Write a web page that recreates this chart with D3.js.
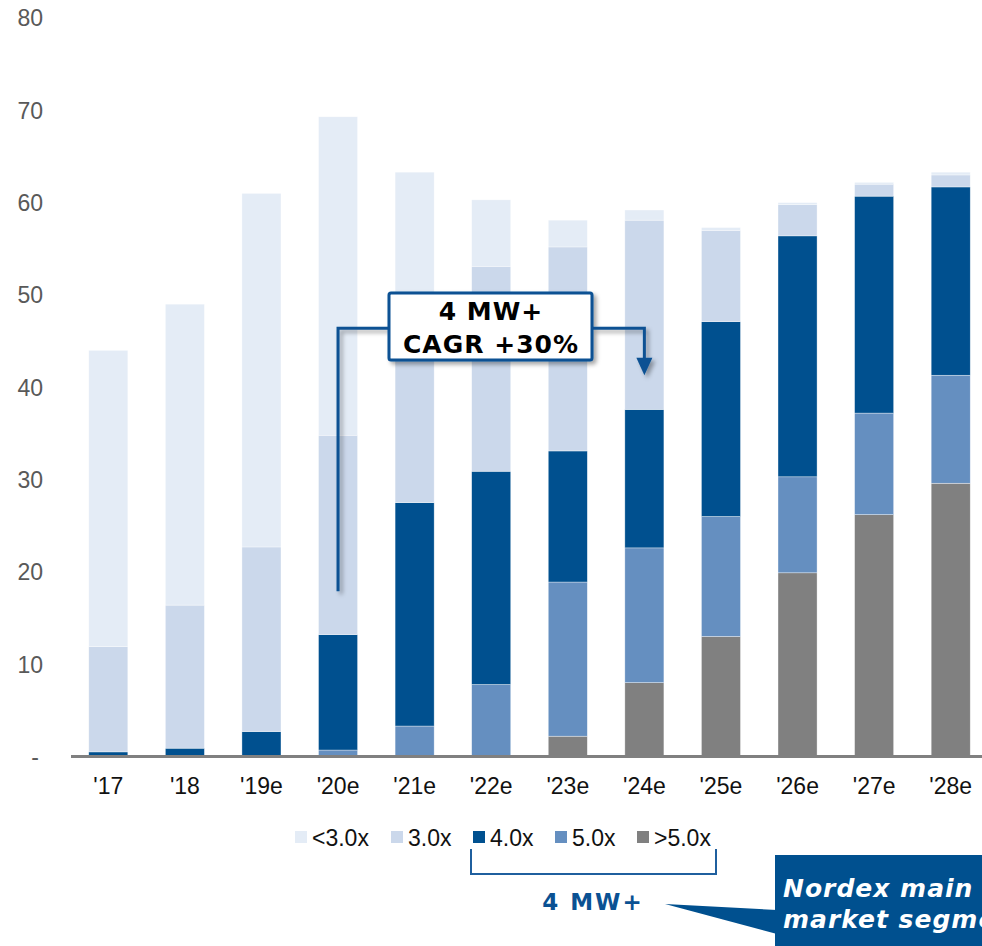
<!DOCTYPE html>
<html>
<head>
<meta charset="utf-8">
<script src="https://cdn.jsdelivr.net/npm/d3@7"></script>
<style>
  html, body { margin: 0; padding: 0; background: #fff; }
  svg { display: block; }
</style>
</head>
<body>
<svg id="chart" width="982" height="946"></svg>
<script>
// Installed base by turbine class (stacked bars)
const categories = ["'17", "'18", "'19e", "'20e", "'21e", "'22e", "'23e", "'24e", "'25e", "'26e", "'27e", "'28e"];
const seriesNames = ["<3.0x", "3.0x", "4.0x", "5.0x", ">5.0x"];
const seriesColors = ["#e4ecf6", "#cbd8eb", "#00508f", "#658fc0", "#808080"];

const valuesLt3 = [32.1, 32.6, 38.3, 34.5, 17.3, 7.2, 2.9, 1.1, 0.3, 0.2, 0.2, 0.3];
const values3 = [11.4, 15.5, 20.0, 21.6, 18.5, 22.2, 22.1, 20.5, 9.9, 3.4, 1.3, 1.3];
const values4 = [0.5, 0.9, 2.7, 12.5, 24.2, 23.1, 14.2, 15.0, 21.1, 26.1, 23.5, 20.4];
const values5 = [0, 0, 0, 0.7, 3.3, 7.8, 16.7, 14.6, 13.0, 10.4, 11.0, 11.7];
const valuesGt5 = [0, 0, 0, 0, 0, 0, 2.2, 8.0, 13.0, 19.9, 26.2, 29.6];

const yTicks = [0, 10, 20, 30, 40, 50, 60, 70, 80];

// Stack order from the bottom up
const stackOrder = [">5.0x", "5.0x", "4.0x", "3.0x", "<3.0x"];
const seriesValues = {
  "<3.0x": valuesLt3, "3.0x": values3, "4.0x": values4, "5.0x": values5, ">5.0x": valuesGt5
};
const rows = categories.map((c, i) => {
  const r = { cat: c };
  seriesNames.forEach(s => { r[s] = seriesValues[s][i]; });
  return r;
});

const svg = d3.select("#chart");
const color = d3.scaleOrdinal().domain(seriesNames).range(seriesColors);

const x = d3.scaleBand().domain(categories).range([70, 989]).paddingInner(0.49).paddingOuter(0.245);
const y = d3.scaleLinear().domain([0, 80]).range([756.5, 18]);

// Drop shadow used by the CAGR callout
const defs = svg.append("defs");
const f = defs.append("filter").attr("id", "shadow").attr("x", "-20%").attr("y", "-20%").attr("width", "150%").attr("height", "150%");
f.append("feDropShadow").attr("dx", 3).attr("dy", 3).attr("stdDeviation", 2)
  .attr("flood-color", "#000").attr("flood-opacity", 0.35);

// Bars
const stack = d3.stack().keys(stackOrder);
const layers = stack(rows);
svg.append("g").selectAll("g")
  .data(layers)
  .join("g")
  .attr("fill", d => color(d.key))
  .selectAll("rect")
  .data(d => d)
  .join("rect")
  .attr("x", d => x(d.data.cat))
  .attr("width", x.bandwidth())
  .attr("y", d => y(d[1]))
  .attr("height", d => Math.max(0, y(d[0]) - y(d[1])))
  .attr("stroke", "#ffffff")
  .attr("stroke-opacity", 0.6)
  .attr("stroke-width", 0.6);

// Baseline
svg.append("line")
  .attr("x1", 71).attr("x2", 982)
  .attr("y1", y(0)).attr("y2", y(0))
  .attr("stroke", "#808080").attr("stroke-width", 3);

// Y axis labels
const yAxis = d3.axisLeft(y).tickValues(yTicks).tickSize(0).tickPadding(0)
  .tickFormat(v => v === 0 ? "-" : d3.format("d")(v));
const gy = svg.append("g").attr("transform", "translate(43,0)").call(yAxis);
gy.select(".domain").remove();
gy.selectAll("text")
  .attr("font-family", "'Liberation Sans', Arial, sans-serif")
  .attr("font-size", 23)
  .attr("fill", "#595959")
  .attr("dy", "0.34em");
gy.selectAll(".tick").filter(d => d === 0).select("text").attr("x", -4);

// X axis labels
const xAxis = d3.axisBottom(x).tickSize(0).tickPadding(0);
const gx = svg.append("g").attr("transform", "translate(0,777)").call(xAxis);
gx.select(".domain").remove();
gx.selectAll("text")
  .attr("font-family", "'Liberation Sans', Arial, sans-serif")
  .attr("font-size", 23)
  .attr("fill", "#111")
  .attr("dy", "0.75em");

// CAGR callout: connector from '20e to '24e through a framed label
const navy = "#0a5193";
const xFrom = x("'20e") + x.bandwidth() / 2;
const xTo = x("'24e") + x.bandwidth() / 2;
const yLine = y(46.4);
const callout = svg.append("g").attr("filter", "url(#shadow)");
callout.append("path")
  .attr("d", `M${xFrom},${y(17.9)} V${yLine} H${xTo} V${y(42.9)}`)
  .attr("fill", "none").attr("stroke", navy).attr("stroke-width", 3);
callout.append("path")
  .attr("d", `M${xTo - 8},${y(43.2)} L${xTo + 8},${y(43.2)} L${xTo},${y(41.3)} Z`)
  .attr("fill", navy);
callout.append("rect")
  .attr("x", 389).attr("y", 293).attr("width", 203).attr("height", 67)
  .attr("rx", 2)
  .attr("fill", "#fff").attr("stroke", navy).attr("stroke-width", 3);
const boxText = svg.append("g")
  .attr("font-family", "'DejaVu Sans', Verdana, sans-serif")
  .attr("font-weight", "bold")
  .attr("fill", "#000")
  .attr("text-anchor", "middle");
boxText.append("text").attr("x", 491).attr("y", 320).attr("font-size", 25).attr("letter-spacing", 1).text("4 MW+");
boxText.append("text").attr("x", 491).attr("y", 353).attr("font-size", 25).attr("letter-spacing", 1).text("CAGR +30%");

// Legend
const legendX = [295, 391, 473, 555, 637];
const legend = svg.append("g");
seriesNames.forEach((s, i) => {
  legend.append("rect")
    .attr("x", legendX[i]).attr("y", 831).attr("width", 12).attr("height", 12)
    .attr("fill", color(s));
  legend.append("text")
    .attr("x", legendX[i] + 17).attr("y", 846)
    .attr("font-family", "'Liberation Sans', Arial, sans-serif")
    .attr("font-size", 23)
    .attr("fill", "#111")
    .text(s);
});

// Bracket grouping the 4 MW+ classes
svg.append("path")
  .attr("d", "M471,849 V874 H716 V849")
  .attr("fill", "none").attr("stroke", "#1f5f9e").attr("stroke-width", 2);
svg.append("text")
  .attr("x", 593).attr("y", 910)
  .attr("text-anchor", "middle")
  .attr("font-family", "'DejaVu Sans', Verdana, sans-serif")
  .attr("font-weight", "bold")
  .attr("font-size", 23)
  .attr("letter-spacing", 2)
  .attr("fill", "#0a5193")
  .text("4 MW+");

// Speech bubble
svg.append("path")
  .attr("d", "M665,904 L777,910 L777,934 Z")
  .attr("fill", "#00508f");
svg.append("rect")
  .attr("x", 775).attr("y", 855).attr("width", 220).attr("height", 100)
  .attr("fill", "#00508f");
const bubble = svg.append("g")
  .attr("font-family", "'DejaVu Sans', Verdana, sans-serif")
  .attr("font-weight", "bold")
  .attr("font-style", "italic")
  .attr("font-size", 25)
  .attr("letter-spacing", 1)
  .attr("fill", "#fff");
bubble.append("text").attr("x", 783).attr("y", 897).text("Nordex main");
bubble.append("text").attr("x", 783).attr("y", 928).text("market segment");
</script>
</body>
</html>
